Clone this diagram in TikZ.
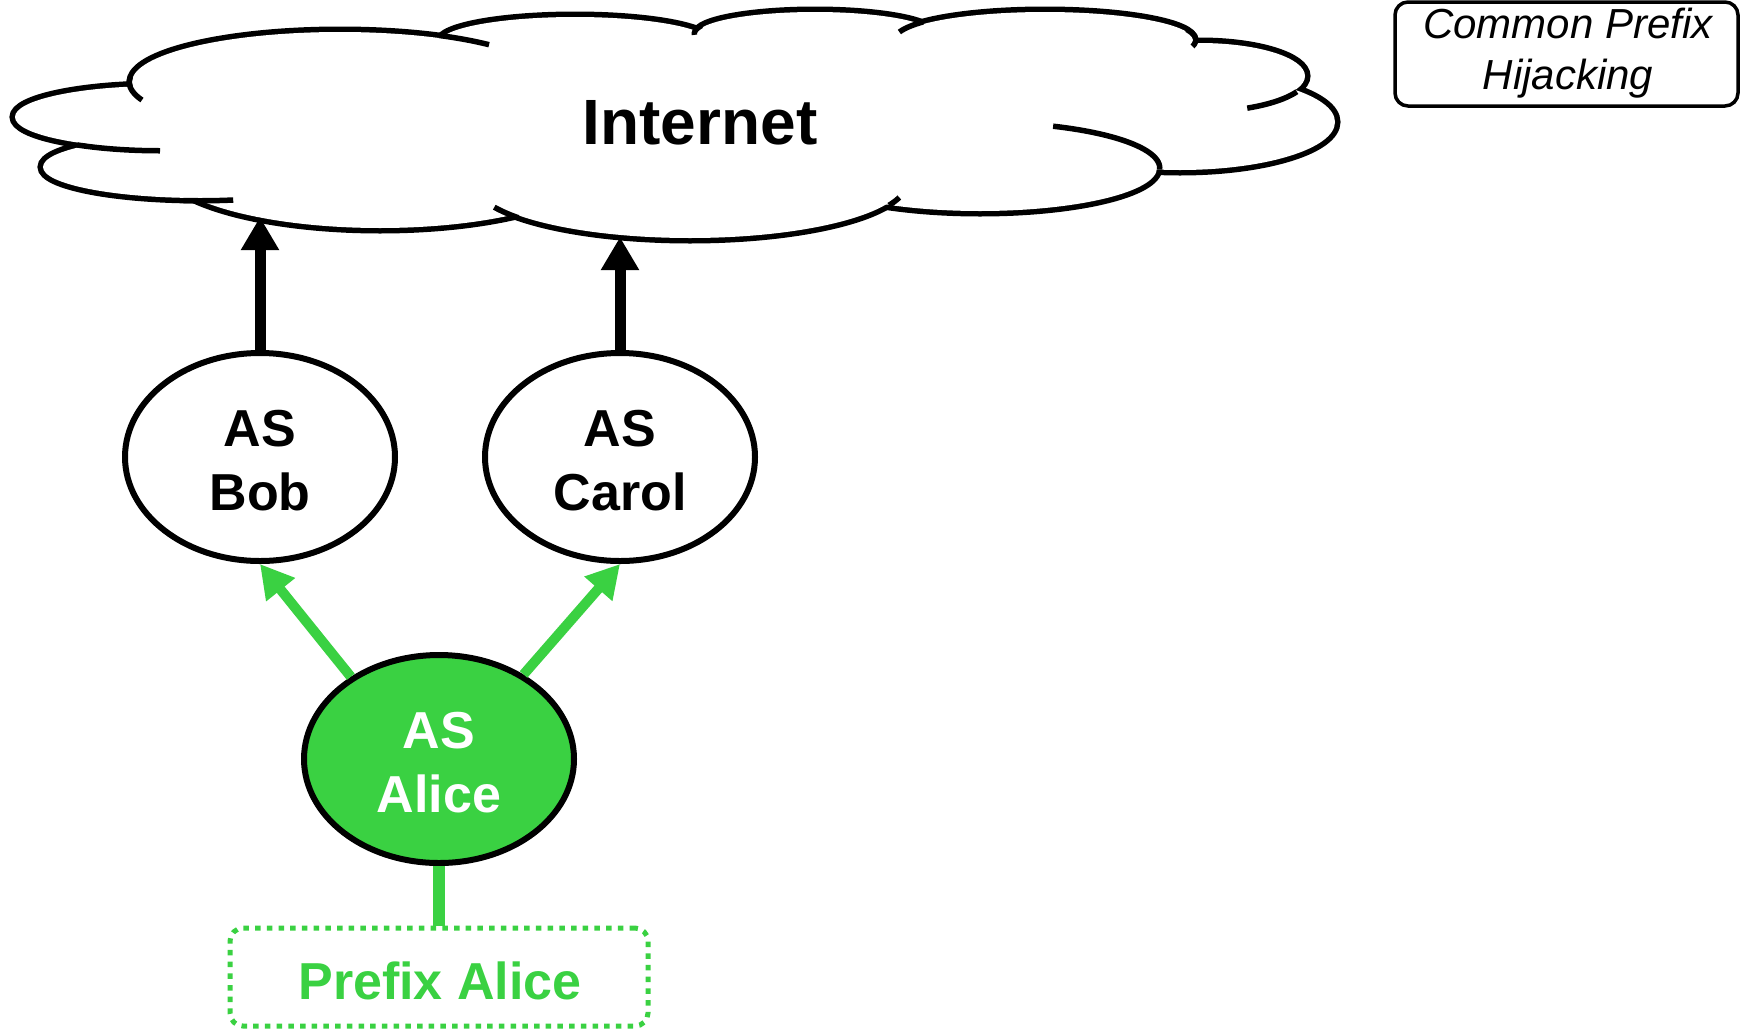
\documentclass[tikz,border=0pt]{standalone}
\usepackage{fontspec}
\setmainfont{Liberation Sans}
\usetikzlibrary{arrows.meta,shapes.geometric}
\definecolor{asgreen}{RGB}{58,209,66}
\newcommand{\cloudstub}[6]{\draw[cloudline] plot[domain=#5:#6,samples=30] ({#1+(#3+2.75)*cos(\x)},{#2+(#4+2.75)*sin(\x)});}
\begin{document}
\begin{tikzpicture}[x=1pt,y=-1pt,
  cloudline/.style={line width=5.5pt,black},
  asnode/.style={ellipse,draw=black,line width=6pt,minimum width=270pt,minimum height=208pt,inner sep=0pt,fill=white},
  astext/.style={align=center,font=\fontsize{52}{64}\selectfont\bfseries,inner sep=0pt},
  blackarrow/.style={line width=11pt,black,-{Triangle[length=33pt,width=36pt]}},
  greenarrow/.style={line width=10pt,asgreen,-{Triangle[length=33pt,width=35pt]}},
  greenline/.style={line width=12pt,asgreen},
  prefixbox/.style={rectangle,draw=asgreen,line width=5pt,dash pattern=on 5.5pt off 6.2pt,rounded corners=13pt,minimum width=418pt,minimum height=98pt,inner sep=0pt},
  titlebox/.style={rectangle,draw=black,line width=3.5pt,rounded corners=13pt,minimum width=343pt,minimum height=104pt,inner sep=0pt},
  titletext/.style={align=center,font=\fontsize{42}{51}\selectfont\itshape,inner sep=0pt}
]
\useasboundingbox (0,0) rectangle (1742,1031);
% cloud: union of ellipses
\foreach \cx/\cy/\rx/\ry in {160/117/145/31, 200/167/157/31, 340/82/208/50, 575/42/135/25, 815/34/118/22, 1045/40/148/28, 1200/76/105/33, 1180/122/155/48, 980/168/177/43, 690/181/215/57, 380/163/220/65}
  \draw[line width=11pt] (\cx,\cy) ellipse [x radius=\rx pt, y radius=\ry pt];
\foreach \cx/\cy/\rx/\ry in {160/117/145/31, 200/167/157/31, 340/82/208/50, 575/42/135/25, 815/34/118/22, 1045/40/148/28, 1200/76/105/33, 1180/122/155/48, 980/168/177/43, 690/181/215/57, 380/163/220/65}
  \fill[white] (\cx,\cy) ellipse [x radius=\rx pt, y radius=\ry pt];
\fill[white] (680,120) ellipse [x radius=560pt, y radius=90pt];
% inner stubs of the cloud
\cloudstub{160}{117}{145}{31}{90}{124}
\cloudstub{340}{82}{208}{50}{160}{186}
\cloudstub{340}{82}{208}{50}{-62}{-45}
\cloudstub{200}{167}{157}{31}{78}{96}
\cloudstub{690}{181}{215}{57}{142}{154}
\cloudstub{690}{181}{215}{57}{16}{24}
\cloudstub{815}{34}{118}{22}{178}{200}
\cloudstub{1045}{40}{148}{28}{195}{216}
\cloudstub{1045}{40}{148}{28}{-20}{12}
\cloudstub{1200}{76}{105}{33}{26}{64}
\cloudstub{980}{168}{177}{43}{-66}{2}
\node[font=\fontsize{64}{77}\selectfont\bfseries,inner sep=0pt] (internet) at (700,122.5) {Internet};
\coordinate (bobin) at (260,217);
\coordinate (carolin) at (620,237);
% title box
\node[titlebox] (title) at (1566.5,54) {};
\node[titletext] (titlelabel) at (1568,53) {Common Prefix\\Hijacking};
% AS nodes
\node[asnode] (bob) at (260,457) {};
\node[astext] (boblabel) at (260,460.5) {AS\\Bob};
\node[asnode] (carol) at (620,457) {};
\node[astext] (carollabel) at (620,460.5) {AS\\Carol};
\node[asnode,fill=asgreen] (alice) at (439,759) {};
\node[astext,text=white] (alicelabel) at (439,762.5) {AS\\Alice};
% prefix
\node[prefixbox] (prefix) at (439,977) {};
\node[font=\fontsize{52}{62}\selectfont\bfseries,text=asgreen,inner sep=0pt] (prefixlabel) at (440,981) {Prefix Alice};
% connectors
\draw[blackarrow] (bob.north) -- (bobin);
\draw[blackarrow] (carol.north) -- (carolin);
\draw[greenarrow] (alice.137) -- (bob.south);
\draw[greenarrow] (alice.45) -- (carol.south);
\draw[greenline] (alice.south) -- (prefix.north);
\end{tikzpicture}
\end{document}
